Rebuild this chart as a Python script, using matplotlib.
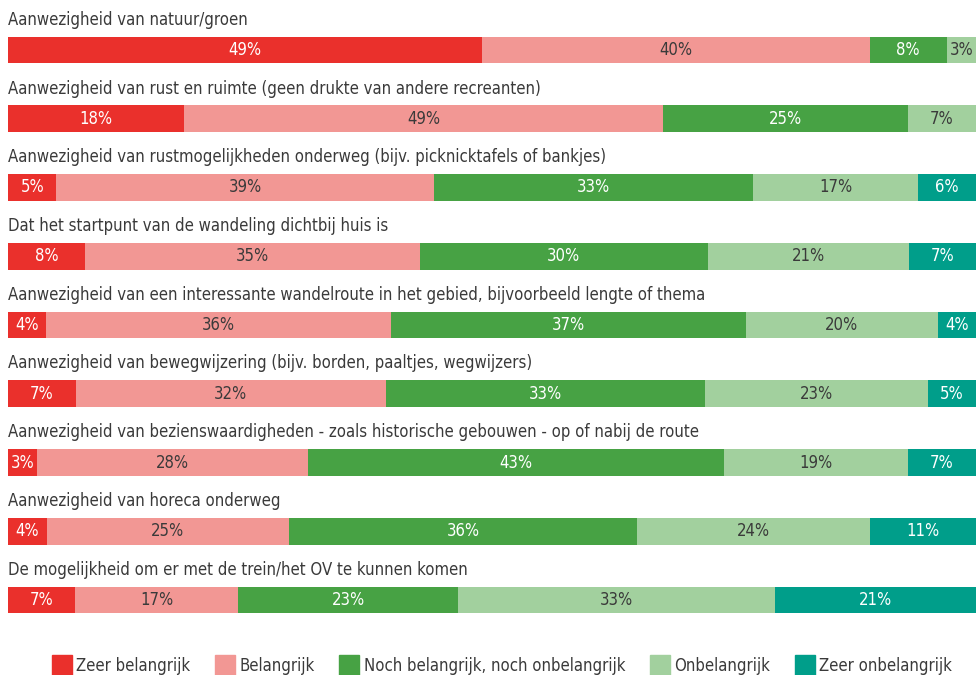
import numpy as np
import matplotlib.pyplot as plt
from matplotlib.patches import Patch

plt.rcParams['font.family'] = ['DejaVu Sans']
plt.rcParams['font.stretch'] = 'condensed'

items = [
    "Aanwezigheid van natuur/groen",
    "Aanwezigheid van rust en ruimte (geen drukte van andere recreanten)",
    "Aanwezigheid van rustmogelijkheden onderweg (bijv. picknicktafels of bankjes)",
    "Dat het startpunt van de wandeling dichtbij huis is",
    "Aanwezigheid van een interessante wandelroute in het gebied, bijvoorbeeld lengte of thema",
    "Aanwezigheid van bewegwijzering (bijv. borden, paaltjes, wegwijzers)",
    "Aanwezigheid van bezienswaardigheden - zoals historische gebouwen - op of nabij de route",
    "Aanwezigheid van horeca onderweg",
    "De mogelijkheid om er met de trein/het OV te kunnen komen",
]
categories = ["Zeer belangrijk", "Belangrijk", "Noch belangrijk, noch onbelangrijk",
              "Onbelangrijk", "Zeer onbelangrijk"]

zeer_belangrijk   = [49, 18, 5, 8, 4, 7, 3, 4, 7]
belangrijk        = [40, 49, 39, 35, 36, 32, 28, 25, 17]
noch              = [8, 25, 33, 30, 37, 33, 43, 36, 23]
onbelangrijk      = [3, 7, 17, 21, 20, 23, 19, 24, 33]
zeer_onbelangrijk = [0, 0, 6, 7, 4, 5, 7, 11, 21]

colors = ['#EA302C', '#F29794', '#47A244', '#A2D09E', '#009E8A']
text_colors = ['#ffffff', '#3a3a3a', '#ffffff', '#3a3a3a', '#ffffff']

data = np.array([zeer_belangrijk, belangrijk, noch, onbelangrijk, zeer_onbelangrijk], dtype=float)
shares = data / data.sum(axis=0) * 100  # bars fill the full width

fig = plt.figure(figsize=(9.76, 6.75), dpi=100)
ax = fig.add_axes([8 / 976, 35 / 675, 968 / 976, 640 / 675])

rows = np.arange(len(items))
left = np.zeros(len(items))
for k in range(5):
    ax.barh(rows, shares[k], left=left, height=0.39, color=colors[k], label=categories[k])
    for i in rows:
        if data[k, i] > 0:
            ax.text(left[i] + shares[k, i] / 2, i, f"{int(data[k, i])}%", ha='center', va='center',
                    color=text_colors[k], fontsize=12)
    left += shares[k]

for i, t in enumerate(items):
    ax.text(0, i - 0.44, t, ha='left', va='center', fontsize=12, color='#3a3a3a')

ax.set_xlim(0, 100)
ax.set_ylim((640 - 50) / 68.75, -50 / 68.75)
ax.axis('off')

handles = [Patch(color=c) for c in colors]
fig.legend(handles, categories, loc='center', bbox_to_anchor=(502 / 976, 9 / 675), ncol=5,
           frameon=False, fontsize=12, handlelength=1.2, handleheight=1.6,
           handletextpad=0.25, columnspacing=1.5, labelcolor='#3a3a3a')

fig.savefig('out.png', dpi=100)
